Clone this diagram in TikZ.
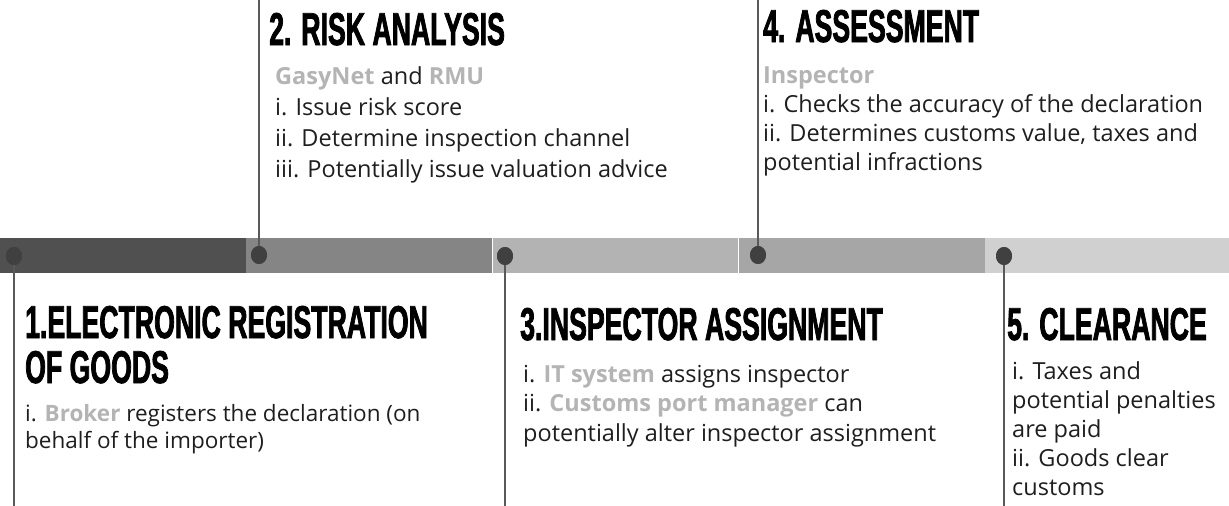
\documentclass[tikz,border=0pt]{standalone}
\usepackage{fontspec}
\setmainfont{Open Sans}
\newfontfamily\headfont[FakeStretch=0.58,FakeBold=1.6]{Liberation Sans}
\usetikzlibrary{shapes.geometric}
\usetikzlibrary{positioning}
\definecolor{bandone}{HTML}{505050}
\definecolor{bandtwo}{HTML}{858585}
\definecolor{bandthree}{HTML}{B3B3B3}
\definecolor{bandfour}{HTML}{A6A6A6}
\definecolor{bandfive}{HTML}{D0D0D0}
\definecolor{actor}{HTML}{B4B4B4}
\definecolor{ink}{HTML}{1E1E1E}
\newcommand{\who}[1]{{\bfseries\color{actor}#1}}

\begin{document}
\begin{tikzpicture}[x=1pt,y=-1pt]
  \tikzstyle{band}=[rectangle, inner sep=0, minimum width=245.8pt, minimum height=35pt, node distance=0pt]
  \tikzstyle{dot}=[ellipse, fill=black!75, inner sep=0, minimum width=16pt, minimum height=18pt]
  \tikzstyle{stem}=[draw=black!65, line width=1.6pt]
  % multi-line nodes sit on the baseline of their last line
  \tikzstyle{head}=[inner sep=0, anchor=base west, align=left, font=\headfont\bfseries\fontsize{46}{45}\selectfont]
  \tikzstyle{body}=[inner sep=0, anchor=base west, align=left, text=ink, font=\fontsize{23.5}{29.5}\selectfont]
    \useasboundingbox (0,0) rectangle (1229,506);
    % the time bar
    \node[band, fill=bandone, anchor=north west] (seg1) at (0,238) {};
    \node[band, fill=bandtwo] (seg2) [right=of seg1] {};
    \node[band, fill=bandthree] (seg3) [right=of seg2] {};
    \node[band, fill=bandfour] (seg4) [right=of seg3] {};
    \node[band, fill=bandfive] (seg5) [right=of seg4] {};
    % stems, up or down to the edge
    \coordinate (end1) at (14,506);
    \coordinate (end2) at (259,0);
    \coordinate (end3) at (505,506);
    \coordinate (end4) at (758,0);
    \coordinate (end5) at (1004,506);
    \node[dot] (dot1) at (14,256) {};
    \node[dot] (dot2) at (259,255) {};
    \node[dot] (dot3) at (505,256) {};
    \node[dot] (dot4) at (758,255) {};
    \node[dot] (dot5) at (1004,256) {};
    \foreach \i in {1,...,5}
      \path[stem] (dot\i.center) -- (end\i);
    \foreach \i in {1,...,5}
      \node[dot] at (dot\i) {};
    % steps
    \node[head] (title1) at (25,383) {1.ELECTRONIC REGISTRATION\\OF GOODS};
    \node[body, font=\fontsize{22.5}{26.5}\selectfont] (body1) at (25,448) {i. \who{Broker} registers the declaration (on\\behalf of the importer)};
    \node[head] (title2) at (269,45) {2. RISK ANALYSIS};
    \node[body, font=\fontsize{23.5}{31}\selectfont] (body2) at (275,177) {\who{GasyNet} and \who{RMU}\\i. Issue risk score\\ii. Determine inspection channel\\iii. Potentially issue valuation advice};
    \node[head] (title3) at (520,340) {3.INSPECTOR ASSIGNMENT};
    \node[body] (body3) at (523,441) {i. \who{IT system} assigns inspector\\ii. \who{Customs port manager} can\\potentially alter inspector assignment};
    \node[head] (title4) at (763,42) {4. ASSESSMENT};
    \node[body, font=\fontsize{23.5}{29}\selectfont] (body4) at (763,170) {\who{Inspector}\\i. Checks the accuracy of the declaration\\ii. Determines customs value, taxes and\\potential infractions};
    \node[head] (title5) at (1007,340) {5. CLEARANCE};
    \node[body, font=\fontsize{23.5}{29}\selectfont] (body5) at (1012,495) {i. Taxes and\\potential penalties\\are paid\\ii. Goods clear\\customs};
  \end{tikzpicture}
\end{document}
